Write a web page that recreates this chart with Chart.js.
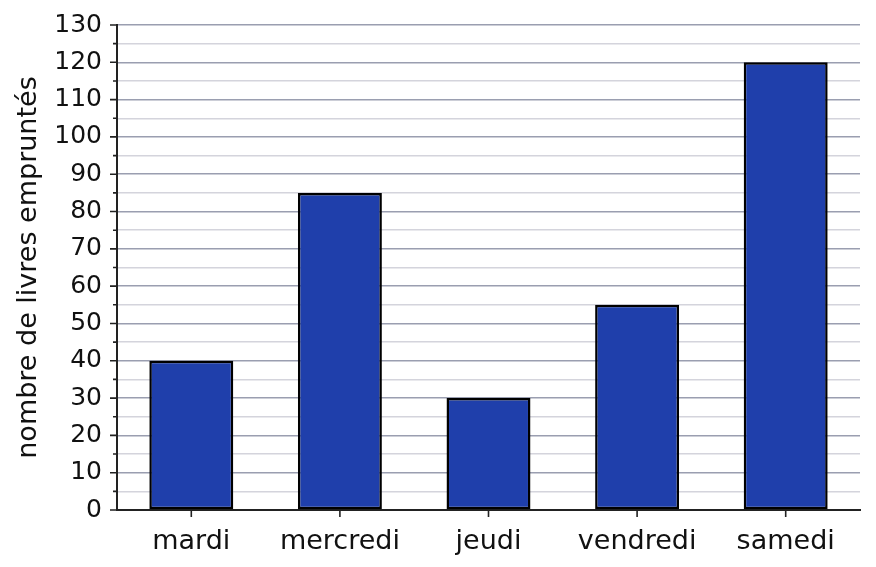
<!DOCTYPE html>
<html>
<head>
<meta charset="utf-8">
<script src="https://cdn.jsdelivr.net/npm/chart.js@4/dist/chart.umd.min.js"></script>
<style>
    html, body { margin: 0; padding: 0; background: #fff; }
    #wrap { width: 876px; height: 567px; }
</style>
</head>
<body>
<div id="wrap"><canvas id="chart"></canvas></div>
<script>
// Data
const days = ['mardi', 'mercredi', 'jeudi', 'vendredi', 'samedi'];
const books = [40, 85, 30, 55, 120];
const yMin = 0;
const yMax = 130;
const yStep = 5;      // minor step; labels every 10

const FONT = 'DejaVu Sans';

// Draws outward axis tick marks (long for labelled values, short for minor ones)
const tickMarks = {
    id: 'tickMarks',
    afterDraw(chart) {
        const ctx = chart.ctx;
        const x = chart.scales.x;
        const y = chart.scales.y;
        ctx.save();
        ctx.strokeStyle = '#222';
        ctx.lineWidth = 1.6;
        ctx.beginPath();
        for (let v = yMin; v <= yMax; v += yStep) {
            const py = y.getPixelForValue(v);
            const len = v % 10 === 0 ? 7 : 4;
            ctx.moveTo(y.right, py);
            ctx.lineTo(y.right - len, py);
        }
        days.forEach((d, i) => {
            const px = x.getPixelForValue(i);
            ctx.moveTo(px, x.top);
            ctx.lineTo(px, x.top + 7);
        });
        ctx.stroke();
        ctx.restore();
    }
};

const ctx = document.getElementById('chart').getContext('2d');
new Chart(ctx, {
    type: 'bar',
    data: {
        labels: days,
        datasets: [{
            data: books,
            backgroundColor: '#1f3fab',
            borderColor: '#000',
            borderWidth: 2.5,
            borderSkipped: false,
            categoryPercentage: 1,
            barPercentage: 0.565
        }]
    },
    options: {
        responsive: true,
        maintainAspectRatio: false,
        animation: false,
        layout: {
            padding: { left: 8, right: 16, top: 25, bottom: 0 }
        },
        plugins: {
            legend: { display: false },
            tooltip: { enabled: false }
        },
        scales: {
            x: {
                grid: { display: false },
                border: { display: true, color: '#222', width: 2 },
                ticks: {
                    color: '#111',
                    padding: 8,
                    font: { family: FONT, size: 27 }
                },
                afterFit(scale) {
                    scale.height = 57;
                    scale.paddingLeft = 0;
                    scale.paddingRight = 0;
                }
            },
            y: {
                min: yMin,
                max: yMax,
                grid: {
                    drawTicks: false,
                    lineWidth: 1.5,
                    color: c => (c.tick.value % 10 === 0 ? '#9a9eb0' : '#d4d4dc')
                },
                border: { display: true, color: '#222', width: 2 },
                ticks: {
                    stepSize: yStep,
                    autoSkip: false,
                    color: '#111',
                    padding: 15,
                    font: { family: FONT, size: 25 },
                    callback: v => (v % 10 === 0 ? v : '')
                },
                title: {
                    display: true,
                    text: 'nombre de livres empruntés',
                    color: '#111',
                    font: { family: FONT, size: 27 },
                    padding: { top: 5, bottom: 0 }
                },
                afterFit(scale) {
                    scale.width = 109;
                    scale.paddingTop = 0;
                    scale.paddingBottom = 0;
                }
            }
        }
    },
    plugins: [tickMarks]
});
</script>
</body>
</html>
